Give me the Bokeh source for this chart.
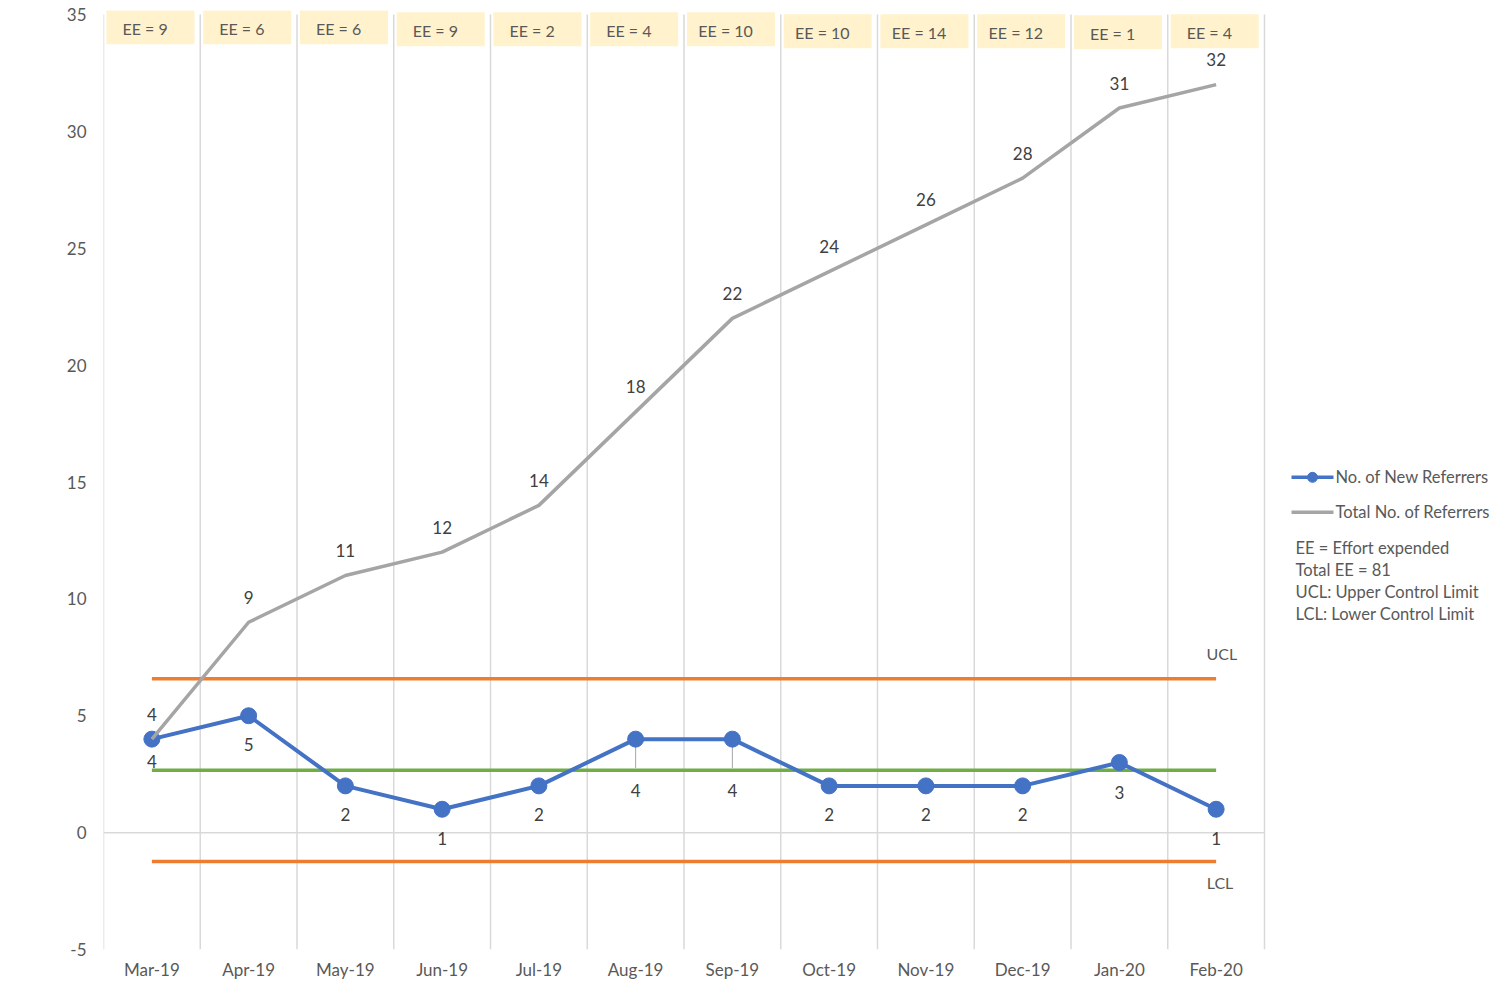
from bokeh.plotting import figure
from bokeh.models import FixedTicker, Range1d, ColumnDataSource
from bokeh.core.properties import value
from bokeh.embed import file_html
from bokeh.resources import INLINE

# ---------------- data ----------------
months = ["Mar-19", "Apr-19", "May-19", "Jun-19", "Jul-19", "Aug-19",
          "Sep-19", "Oct-19", "Nov-19", "Dec-19", "Jan-20", "Feb-20"]
new_referrers = [4, 5, 2, 1, 2, 4, 4, 2, 2, 2, 3, 1]
total_referrers = [4, 9, 11, 12, 14, 18, 22, 24, 26, 28, 31, 32]
effort_expended = [9, 6, 6, 9, 2, 4, 10, 10, 14, 12, 1, 4]
mean_value = 2.67
ucl_value = 6.58
lcl_value = -1.24
y_ticks = [-5, 0, 5, 10, 15, 20, 25, 30, 35]
y_tick_labels = ["-5", "0", "5", "10", "15", "20", "25", "30", "35"]
legend_labels = ["No. of New Referrers", "Total No. of Referrers"]
notes = ["EE = Effort expended", "Total EE = 81",
         "UCL: Upper Control Limit", "LCL: Lower Control Limit"]

# ---------------- styles ----------------
FONT = value("Lato")
AXIS_COL = "#595959"
LABEL_COL = "#404040"
BLUE = "#4472C4"
GRAY = "#A5A5A5"
ORANGE = "#ED7D31"
GREEN = "#70AD47"
GRID = "#D9D9D9"
BOX = "#FFF2CC"
FS = "17px"
new_label_offsets = [22, 29, 29, 29, 29, 51, 51, 29, 29, 29, 30, 29]
leader = [False, False, False, False, False, True, True, False, False, False, False, False]
box_tops = [10, 10, 10, 12, 12, 12, 12, 14, 14, 14, 15, 14]   # px from top

# layout helpers (picture pixels -> data units)
CW = 96.75      # px per category
X0 = 103.0      # px at x = -0.5
Y0 = 832.3      # px at y = 0
SY = 23.375     # px per y unit


def wx(px):
    return (px - X0) / CW - 0.5


def wy(py):
    return (Y0 - py) / SY


W, H = 1496, 982
n = len(months)
xs = list(range(n))

p = figure(width=W, height=H, output_backend="svg", toolbar_location=None,
           x_range=Range1d(-0.5, -0.5 + (W - X0) / CW),
           y_range=Range1d(-5, 35 + 4 / SY),
           min_border_left=int(X0), min_border_right=0, min_border_top=10,
           min_border_bottom=H - 949)
p.outline_line_color = None
p.background_fill_color = "white"
p.border_fill_color = "white"
p.xgrid.grid_line_color = None
p.ygrid.grid_line_color = None

# axes
p.yaxis.ticker = FixedTicker(ticks=y_ticks)
p.yaxis.major_label_overrides = {t: s for t, s in zip(y_ticks, y_tick_labels)}
p.yaxis.axis_line_color = None
p.yaxis.major_tick_line_color = None
p.yaxis.minor_tick_line_color = None
p.yaxis.major_tick_out = 0
p.yaxis.major_label_standoff = 17
p.yaxis.major_label_text_font = "Lato"
p.yaxis.major_label_text_font_size = FS
p.yaxis.major_label_text_color = AXIS_COL

p.xaxis.ticker = FixedTicker(ticks=xs)
p.xaxis.major_label_overrides = {i: m for i, m in enumerate(months)}
p.xaxis.axis_line_color = None
p.xaxis.major_tick_line_color = None
p.xaxis.minor_tick_line_color = None
p.xaxis.major_tick_out = 0
p.xaxis.major_label_standoff = 9
p.xaxis.major_label_text_font = "Lato"
p.xaxis.major_label_text_font_size = FS
p.xaxis.major_label_text_color = AXIS_COL

# vertical category gridlines
bounds = [i - 0.5 for i in range(n + 1)]
p.segment(x0=bounds, y0=[-5] * len(bounds), x1=bounds, y1=[35] * len(bounds),
          line_color=GRID, line_width=1.5)
# zero line
p.segment(x0=[-0.5], y0=[0], x1=[n - 0.5], y1=[0], line_color=GRID, line_width=1.5)

# EE boxes
p.quad(left=[i - 0.47 for i in xs], right=[i + 0.44 for i in xs],
       bottom=[wy(t + 34) for t in box_tops], top=[wy(t) for t in box_tops],
       fill_color=BOX, line_color=None)
p.text(x=[i - 0.07 for i in xs], y=[wy(t + 18) for t in box_tops],
       text=[f"EE = {e}" for e in effort_expended],
       text_font=FONT, text_font_size="16px", text_color=AXIS_COL,
       text_align="center", text_baseline="middle")

# control lines
p.line(x=[0, n - 1], y=[mean_value] * 2, line_color=GREEN, line_width=3.5)
p.line(x=[0, n - 1], y=[ucl_value] * 2, line_color=ORANGE, line_width=3.5)
p.line(x=[0, n - 1], y=[lcl_value] * 2, line_color=ORANGE, line_width=3.5)
p.text(x=[n - 1 + 0.06], y=[ucl_value], text=["UCL"], y_offset=-25,
       text_font=FONT, text_font_size="16px", text_color=AXIS_COL,
       text_align="center", text_baseline="middle")
p.text(x=[n - 1 + 0.04], y=[lcl_value], text=["LCL"], y_offset=21,
       text_font=FONT, text_font_size="16px", text_color=AXIS_COL,
       text_align="center", text_baseline="middle")

# leader lines for displaced labels
lx = [i for i in xs if leader[i]]
ly = [new_referrers[i] for i in xs if leader[i]]
p.segment(x0=lx, y0=ly, x1=lx, y1=[v - 29 / SY for v in ly],
          line_color="#A6A6A6", line_width=1)

# series
p.line(x=xs, y=new_referrers, line_color=BLUE, line_width=4)
p.scatter(x=xs, y=new_referrers, size=16, marker="circle",
          fill_color=BLUE, line_color=BLUE)
p.line(x=xs, y=total_referrers, line_color=GRAY, line_width=3.5)

# data labels
src_new = ColumnDataSource(dict(x=xs, y=new_referrers,
                                t=[str(v) for v in new_referrers],
                                off=new_label_offsets))
p.text(x="x", y="y", text="t", y_offset="off", source=src_new,
       text_font=FONT, text_font_size=FS, text_color=LABEL_COL,
       text_align="center", text_baseline="middle")
p.text(x=xs, y=total_referrers, text=[str(v) for v in total_referrers],
       y_offset=-25, text_font=FONT, text_font_size=FS,
       text_color=LABEL_COL, text_align="center", text_baseline="middle")

# legend (manual)
leg_x0, leg_x1 = wx(1291), wx(1333)
leg_y = [wy(477), wy(512)]
p.line(x=[leg_x0, leg_x1], y=[leg_y[0]] * 2, line_color=BLUE, line_width=3.5)
p.scatter(x=[(leg_x0 + leg_x1) / 2], y=[leg_y[0]], size=10, marker="circle",
          fill_color=BLUE, line_color=BLUE)
p.line(x=[leg_x0, leg_x1], y=[leg_y[1]] * 2, line_color=GRAY, line_width=3.5)
p.text(x=[wx(1335)] * 2, y=leg_y, text=legend_labels,
       text_font=FONT, text_font_size="16.5px", text_color=AXIS_COL,
       text_align="left", text_baseline="middle")
p.text(x=[wx(1295)] * len(notes), y=[wy(548 + 22 * k) for k in range(len(notes))],
       text=notes, text_font=FONT, text_font_size="16.5px", text_color=AXIS_COL,
       text_align="left", text_baseline="middle")

open("out.html", "w").write(file_html(p, INLINE))
